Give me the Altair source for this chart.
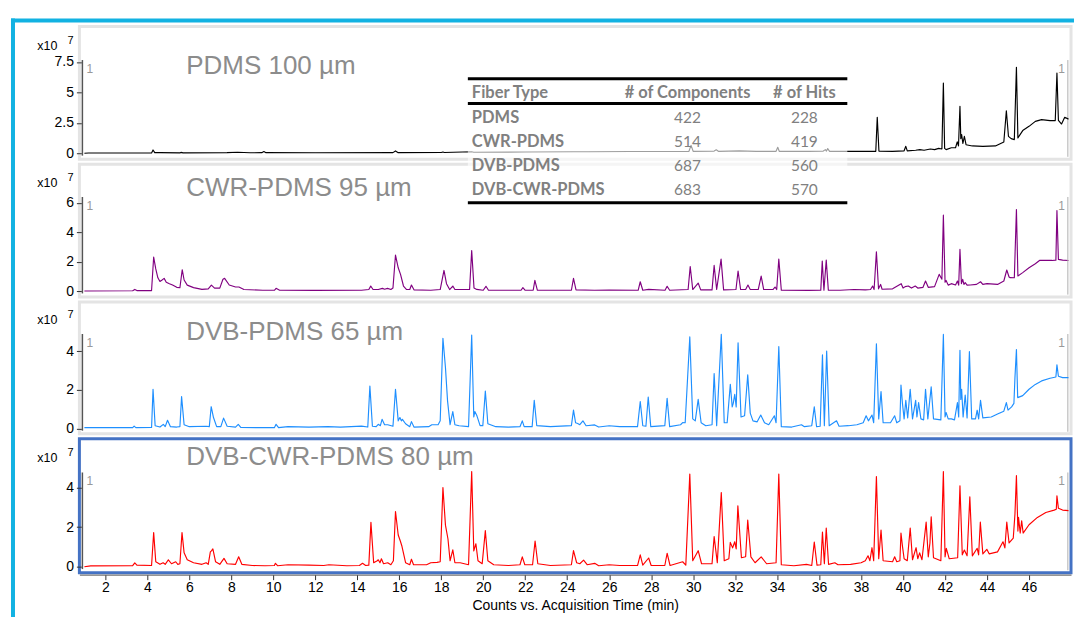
import altair as alt
import pandas as pd

# ---------------- data (intensities in x10^7 counts) ----------------
PANEL_TITLES = ["PDMS 100 µm", "CWR-PDMS 95 µm", "DVB-PDMS 65 µm", "DVB-CWR-PDMS 80 µm"]

PDMS_TRACE = [
    (1.0, 0.0), (1.2, 0.02), (4.2, 0.03), (4.27, 0.27), (4.35, 0.05), (4.6, 0.05), (5.55, 0.03),
    (5.6, 0.07), (5.7, 0.03), (7.8, 0.05), (8.3, 0.08), (8.9, 0.04), (9.45, 0.05), (9.55, 0.14),
    (9.65, 0.05), (12.0, 0.04), (15.7, 0.05), (15.82, 0.19), (15.95, 0.05), (18.0, 0.06),
    (18.08, 0.1), (18.15, 0.06), (19.45, 0.12), (19.55, 0.08), (22.0, 0.1), (24.3, 0.12),
    (25.0, 0.12), (27.0, 0.14), (29.8, 0.16), (29.9, 0.65), (30.0, 0.16), (31.0, 0.18),
    (31.1, 0.28), (31.2, 0.16), (32.2, 0.2), (33.0, 0.16), (33.95, 0.16), (34.03, 0.49),
    (34.1, 0.16), (35.5, 0.16), (36.2, 0.18), (36.3, 0.3), (36.35, 0.18), (36.41, 0.38),
    (36.5, 0.16), (37.5, 0.16), (38.7, 0.16), (38.77, 2.95), (38.85, 0.18), (39.5, 0.16),
    (40.05, 0.2), (40.13, 0.57), (40.2, 0.2), (40.6, 0.25), (40.8, 0.3), (41.0, 0.25),
    (41.3, 0.35), (41.5, 0.3), (41.7, 0.4), (41.85, 0.35), (41.92, 5.76), (41.98, 0.4),
    (42.05, 0.3), (42.3, 0.45), (42.5, 0.45), (42.58, 0.93), (42.64, 0.6), (42.71, 3.85),
    (42.75, 1.2), (42.79, 1.53), (42.85, 0.8), (42.92, 1.39), (43.0, 0.7), (43.3, 0.6),
    (43.8, 0.57), (44.4, 0.6), (44.8, 0.93), (44.92, 3.49), (45.02, 1.39), (45.15, 1.2),
    (45.3, 1.12), (45.4, 7.05), (45.47, 1.26), (45.7, 1.86), (46.0, 2.21), (46.3, 2.62),
    (46.6, 2.76), (47.0, 2.68), (47.25, 2.68), (47.33, 6.58), (47.4, 2.7), (47.55, 2.4),
    (47.7, 2.95), (47.88, 2.8),
]

CWR_PDMS_TRACE = [
    (1.0, 0.0), (3.3, 0.02), (3.4, 0.11), (3.5, 0.03), (4.2, 0.03), (4.3, 2.31), (4.4, 1.5),
    (4.5, 0.9), (4.6, 0.65), (4.7, 0.75), (4.8, 0.86), (4.9, 0.6), (5.05, 0.5), (5.2, 0.41),
    (5.4, 0.25), (5.55, 0.22), (5.66, 1.45), (5.75, 0.75), (5.9, 0.4), (6.2, 0.23), (6.6, 0.11),
    (6.9, 0.15), (7.05, 0.4), (7.2, 0.2), (7.45, 0.2), (7.6, 0.8), (7.68, 0.86), (7.9, 0.41),
    (8.2, 0.27), (8.36, 0.27), (8.6, 0.1), (9.5, 0.05), (10.05, 0.05), (10.13, 0.18),
    (10.3, 0.05), (12.0, 0.04), (14.2, 0.05), (14.55, 0.1), (14.64, 0.34), (14.75, 0.1),
    (15.0, 0.1), (15.2, 0.18), (15.3, 0.12), (15.44, 0.18), (15.6, 0.1), (15.7, 0.2),
    (15.82, 2.45), (15.95, 1.58), (16.06, 1.13), (16.2, 0.34), (16.35, 0.1), (16.5, 0.1),
    (16.58, 0.41), (16.7, 0.08), (17.5, 0.05), (17.95, 0.1), (18.13, 1.4), (18.25, 0.5),
    (18.4, 0.1), (18.55, 0.34), (18.65, 0.1), (19.35, 0.1), (19.45, 2.76), (19.56, 0.2),
    (19.69, 0.11), (20.0, 0.05), (20.13, 0.32), (20.25, 0.05), (21.8, 0.05), (21.89, 0.23),
    (22.0, 0.05), (22.38, 0.05), (22.46, 0.72), (22.58, 0.05), (24.2, 0.05), (24.3, 0.86),
    (24.42, 0.08), (25.3, 0.05), (26.0, 0.06), (27.38, 0.05), (27.48, 0.63), (27.6, 0.05),
    (27.88, 0.11), (28.66, 0.05), (28.76, 0.32), (28.88, 0.05), (29.76, 0.1), (29.86, 1.67),
    (29.98, 0.1), (30.24, 0.54), (30.36, 0.08), (30.9, 0.08), (31.0, 1.74), (31.12, 0.1),
    (31.33, 2.17), (31.45, 0.08), (32.04, 0.1), (32.14, 1.36), (32.26, 0.1), (32.5, 0.1),
    (32.61, 0.41), (32.72, 0.1), (33.1, 0.1), (33.24, 1.02), (33.36, 0.1), (33.8, 0.1),
    (33.9, 0.27), (33.98, 0.1), (34.08, 2.17), (34.2, 0.05), (35.5, 0.04), (36.08, 0.05),
    (36.15, 2.04), (36.23, 0.05), (36.34, 2.1), (36.44, 0.05), (37.0, 0.05), (37.66, 0.1),
    (38.2, 0.08), (38.45, 0.1), (38.55, 0.34), (38.62, 0.1), (38.73, 2.67), (38.83, 0.15),
    (38.93, 0.45), (39.0, 0.12), (39.5, 0.15), (39.91, 0.5), (40.0, 0.2), (40.1, 0.3),
    (40.25, 0.34), (40.4, 0.2), (40.58, 0.34), (40.7, 0.2), (40.95, 0.25), (41.07, 0.68),
    (41.2, 0.25), (41.5, 0.3), (41.72, 1.13), (41.85, 0.8), (41.92, 5.16), (42.0, 0.6),
    (42.05, 0.72), (42.15, 0.4), (42.3, 0.5), (42.5, 0.41), (42.59, 0.68), (42.65, 0.4),
    (42.71, 2.83), (42.78, 0.5), (42.84, 0.79), (42.9, 0.45), (42.96, 0.57), (43.05, 0.4),
    (43.2, 0.41), (43.5, 0.45), (43.69, 0.63), (43.8, 0.45), (44.0, 0.5), (44.5, 0.45),
    (44.8, 0.68), (44.94, 1.43), (45.05, 0.95), (45.1, 0.91), (45.3, 0.9), (45.4, 5.55),
    (45.47, 1.02), (45.7, 1.25), (46.0, 1.58), (46.3, 1.86), (46.5, 2.08), (46.8, 2.08),
    (47.1, 2.08), (47.28, 2.1), (47.33, 5.48), (47.4, 2.15), (47.6, 2.1), (47.88, 2.08),
]

DVB_PDMS_TRACE = [
    (1.0, 0.05), (3.3, 0.05), (3.37, 0.13), (3.45, 0.05), (4.2, 0.06), (4.27, 2.03), (4.37, 0.15),
    (4.6, 0.08), (4.76, 0.22), (4.85, 0.1), (4.96, 0.43), (5.1, 0.1), (5.4, 0.08), (5.55, 0.1),
    (5.63, 1.65), (5.75, 0.2), (6.0, 0.1), (6.8, 0.12), (6.95, 0.1), (7.04, 1.13), (7.15, 0.57),
    (7.3, 0.1), (7.5, 0.1), (7.63, 0.54), (7.8, 0.12), (8.2, 0.08), (8.33, 0.22), (8.45, 0.06),
    (9.5, 0.05), (10.05, 0.05), (10.13, 0.22), (10.25, 0.05), (10.7, 0.1), (11.7, 0.08),
    (12.6, 0.1), (13.2, 0.08), (14.2, 0.13), (14.5, 0.08), (14.6, 2.2), (14.72, 0.12),
    (14.9, 0.1), (15.0, 0.22), (15.1, 0.15), (15.18, 0.48), (15.3, 0.2), (15.45, 0.2),
    (15.7, 0.12), (15.82, 2.03), (15.95, 0.4), (16.03, 0.57), (16.1, 0.4), (16.15, 0.48),
    (16.3, 0.25), (16.5, 0.1), (16.58, 0.36), (16.7, 0.08), (17.4, 0.1), (17.55, 0.2),
    (17.85, 0.2), (17.95, 0.4), (18.08, 4.66), (18.2, 3.15), (18.3, 1.43), (18.42, 0.2),
    (18.55, 0.88), (18.65, 0.2), (18.85, 0.15), (19.3, 0.1), (19.45, 4.83), (19.55, 0.6),
    (19.6, 0.88), (19.7, 0.66), (19.85, 0.15), (19.98, 0.15), (20.1, 1.94), (20.22, 0.25),
    (20.6, 0.1), (21.2, 0.08), (21.75, 0.1), (21.86, 0.4), (21.95, 0.1), (22.33, 0.1),
    (22.43, 1.46), (22.55, 0.15), (23.2, 0.1), (24.2, 0.15), (24.3, 0.95), (24.4, 0.3),
    (24.5, 0.26), (24.6, 0.2), (24.75, 0.4), (24.9, 0.15), (25.31, 0.19), (25.5, 0.08),
    (26.0, 0.15), (26.5, 0.1), (27.35, 0.1), (27.48, 1.4), (27.6, 0.15), (27.75, 0.12),
    (27.86, 1.63), (27.98, 0.1), (28.65, 0.15), (28.76, 1.56), (28.88, 0.1), (29.4, 0.2),
    (29.5, 0.31), (29.62, 0.3), (29.84, 4.73), (29.98, 0.5), (30.1, 0.4), (30.24, 1.51),
    (30.38, 0.3), (30.6, 0.15), (30.9, 0.2), (31.0, 2.84), (31.12, 0.15), (31.34, 4.86),
    (31.48, 0.3), (31.62, 0.3), (31.77, 2.28), (31.86, 1.12), (31.91, 1.3), (31.98, 1.77),
    (32.05, 1.12), (32.14, 4.43), (32.28, 0.6), (32.45, 0.66), (32.6, 2.77), (32.72, 0.8),
    (32.85, 0.4), (33.05, 0.35), (33.22, 0.7), (33.4, 0.3), (33.6, 0.2), (33.87, 0.66),
    (33.95, 0.3), (34.08, 4.23), (34.2, 0.1), (34.7, 0.08), (35.16, 0.2), (35.3, 0.1),
    (35.65, 0.15), (35.77, 1.12), (35.88, 0.1), (36.05, 0.12), (36.16, 3.8), (36.25, 0.15),
    (36.36, 4.0), (36.48, 0.15), (36.83, 0.4), (36.95, 0.12), (37.4, 0.15), (37.8, 0.2),
    (38.1, 0.3), (38.24, 0.66), (38.35, 0.4), (38.52, 0.7), (38.6, 0.3), (38.73, 4.38),
    (38.84, 0.5), (38.95, 1.91), (39.05, 0.3), (39.4, 0.3), (39.6, 0.66), (39.7, 0.3),
    (39.85, 0.4), (39.9, 2.25), (39.97, 1.3), (40.05, 0.5), (40.13, 1.46), (40.22, 0.55),
    (40.34, 2.03), (40.45, 0.5), (40.6, 1.46), (40.66, 0.6), (40.74, 1.34), (40.85, 0.5),
    (40.98, 0.45), (41.07, 2.03), (41.18, 0.5), (41.34, 2.15), (41.45, 0.5), (41.8, 0.45),
    (41.92, 4.86), (42.0, 0.6), (42.05, 0.83), (42.15, 0.5), (42.3, 0.5), (42.45, 0.45),
    (42.59, 1.34), (42.65, 0.6), (42.71, 4.04), (42.75, 1.5), (42.79, 2.03), (42.86, 0.6),
    (42.96, 1.73), (43.05, 0.55), (43.16, 3.97), (43.27, 0.5), (43.45, 0.5), (43.53, 0.95),
    (43.6, 0.5), (43.69, 1.46), (43.8, 0.55), (44.2, 0.6), (44.5, 0.75), (44.8, 0.9),
    (44.92, 1.34), (45.0, 0.95), (45.17, 1.12), (45.28, 1.3), (45.33, 2.63), (45.4, 4.08),
    (45.46, 1.6), (45.7, 1.7), (46.0, 2.03), (46.3, 2.28), (46.6, 2.46), (47.0, 2.6),
    (47.28, 2.66), (47.33, 3.29), (47.4, 2.7), (47.6, 2.63), (47.88, 2.63),
]

DVB_CWR_PDMS_TRACE = [
    (1.0, 0.0), (1.3, 0.04), (3.3, 0.05), (3.4, 0.19), (3.5, 0.08), (4.2, 0.06), (4.3, 1.73),
    (4.4, 0.25), (4.6, 0.12), (4.75, 0.2), (4.85, 0.12), (5.0, 0.35), (5.15, 0.15), (5.35, 0.25),
    (5.45, 0.12), (5.55, 0.15), (5.65, 1.73), (5.75, 0.7), (5.9, 0.35), (6.2, 0.2), (6.6, 0.12),
    (6.8, 0.2), (6.9, 0.12), (7.0, 0.75), (7.05, 0.8), (7.12, 0.9), (7.25, 0.25), (7.45, 0.12),
    (7.65, 0.42), (7.8, 0.15), (8.2, 0.12), (8.35, 0.5), (8.5, 0.12), (9.0, 0.06), (9.6, 0.05),
    (10.05, 0.06), (10.1, 0.17), (10.2, 0.05), (10.7, 0.1), (11.7, 0.08), (12.4, 0.06),
    (12.65, 0.1), (13.5, 0.05), (14.1, 0.06), (14.25, 0.17), (14.4, 0.06), (14.55, 0.08),
    (14.65, 2.24), (14.78, 0.2), (14.95, 0.3), (15.0, 0.35), (15.08, 0.2), (15.15, 0.4),
    (15.25, 0.15), (15.45, 0.2), (15.6, 0.1), (15.72, 0.3), (15.82, 2.79), (15.95, 1.6),
    (16.05, 1.3), (16.12, 1.06), (16.3, 0.2), (16.5, 0.1), (16.58, 0.38), (16.68, 0.1),
    (17.3, 0.1), (17.5, 0.2), (17.8, 0.22), (17.95, 0.25), (18.08, 4.0), (18.2, 2.1),
    (18.32, 1.4), (18.42, 0.3), (18.55, 0.85), (18.65, 0.2), (18.9, 0.2), (19.3, 0.1),
    (19.45, 4.81), (19.55, 0.8), (19.65, 1.16), (19.75, 0.3), (19.95, 0.15), (20.1, 1.82),
    (20.22, 0.3), (20.5, 0.1), (21.2, 0.06), (21.75, 0.1), (21.86, 0.5), (21.98, 0.1),
    (22.35, 0.1), (22.47, 1.3), (22.6, 0.15), (23.2, 0.06), (24.2, 0.1), (24.3, 0.81),
    (24.45, 0.2), (24.6, 0.15), (24.78, 0.33), (24.95, 0.1), (25.31, 0.17), (25.5, 0.05),
    (26.0, 0.1), (26.5, 0.06), (27.35, 0.06), (27.48, 0.6), (27.6, 0.08), (27.88, 0.44),
    (28.0, 0.06), (28.65, 0.06), (28.76, 0.68), (28.9, 0.06), (29.5, 0.25), (29.65, 0.08),
    (29.84, 4.68), (29.98, 0.3), (30.24, 0.81), (30.4, 0.15), (30.9, 0.15), (31.0, 1.52),
    (31.15, 0.2), (31.34, 3.75), (31.48, 0.3), (31.7, 0.4), (31.77, 1.23), (31.88, 0.95),
    (31.98, 1.26), (32.05, 0.9), (32.13, 3.08), (32.3, 0.45), (32.5, 0.5), (32.6, 2.36),
    (32.75, 0.5), (32.95, 0.2), (33.24, 0.5), (33.5, 0.15), (33.95, 0.2), (34.08, 4.68),
    (34.2, 0.1), (34.8, 0.05), (35.4, 0.12), (35.65, 0.06), (35.77, 1.25), (35.9, 0.08),
    (36.08, 0.1), (36.16, 1.75), (36.25, 0.15), (36.34, 1.95), (36.45, 0.12), (36.75, 0.2),
    (36.9, 0.1), (37.5, 0.12), (38.0, 0.2), (38.2, 0.3), (38.33, 0.55), (38.42, 0.3),
    (38.52, 0.96), (38.6, 0.3), (38.73, 4.55), (38.84, 0.4), (38.95, 1.85), (39.05, 0.3),
    (39.5, 0.25), (39.6, 0.5), (39.7, 0.25), (39.85, 0.3), (39.9, 1.7), (39.97, 1.04),
    (40.05, 0.4), (40.2, 0.3), (40.34, 1.95), (40.45, 0.35), (40.62, 0.96), (40.7, 0.4),
    (40.79, 0.7), (40.9, 0.35), (41.1, 2.25), (41.2, 0.5), (41.28, 1.2), (41.34, 2.52),
    (41.45, 0.45), (41.8, 0.3), (41.92, 4.81), (42.0, 0.5), (42.06, 0.93), (42.2, 0.4),
    (42.6, 0.45), (42.71, 4.09), (42.82, 0.6), (42.92, 0.84), (43.05, 0.55), (43.18, 3.53),
    (43.3, 0.55), (43.53, 0.93), (43.6, 0.6), (43.68, 2.25), (43.8, 0.65), (43.99, 0.88),
    (44.1, 0.65), (44.5, 0.75), (44.76, 1.26), (44.85, 0.95), (44.94, 2.25), (45.05, 1.2),
    (45.25, 1.45), (45.33, 2.66), (45.4, 4.6), (45.47, 1.8), (45.5, 2.49), (45.58, 1.7),
    (45.65, 2.32), (45.72, 1.7), (46.0, 2.12), (46.4, 2.49), (46.8, 2.74), (47.2, 2.86),
    (47.3, 2.9), (47.33, 3.58), (47.4, 2.95), (47.6, 2.86), (47.88, 2.83),
]

TRACES = [PDMS_TRACE, CWR_PDMS_TRACE, DVB_PDMS_TRACE, DVB_CWR_PDMS_TRACE]

Y_TICKS = [[0, 2.5, 5, 7.5], [0, 2, 4, 6], [0, 2, 4], [0, 2, 4]]
Y_TOP = [7.65, 6.4, 4.88, 4.76]          # top of each trace's displayed range
X_TICKS = list(range(2, 48, 2))
X_END = 47.85

FIBER_TYPES = ["PDMS", "CWR-PDMS", "DVB-PDMS", "DVB-CWR-PDMS"]
N_COMPONENTS = [422, 514, 687, 683]
N_HITS = [228, 419, 560, 570]
TABLE_HEADER = ["Fiber Type", "# of Components", "# of Hits"]

# ---------------- layout / style ----------------
FONT = "Liberation Sans"
TABLE_FONT = "Lato"
COLORS = ["#000000", "#800080", "#1e8fff", "#ff0000"]
FRAME = ["#e4e4e4", "#e4e4e4", "#e4e4e4", "#4472c4"]
HEIGHTS = [133, 133, 132, 134]
Y_DOMAINS = [(-0.49, 10.41), (-0.41, 8.63), (-0.27, 6.53), (-0.30, 6.46)]
X_DOMAIN = [0.762, 48.0]
WIDTH = 993
TITLE_Y = [40, 24, 30.5, 18.5]
CYAN = "#12b2e2"
GREY_TEXT = "#8c8c8c"
TABLE_GREY = "#808080"

ONE = pd.DataFrame({"k": [0]})


def table_layers():
    x0, x1 = 389, 769
    col_x = [393, 609, 726]
    header_y = -71.5
    row_y = [-46.5, -22.3, 1.8, 25.5]
    layers = [
        alt.Chart(ONE).mark_rect(color="white", opacity=0.62).encode(
            x=alt.value(x0), x2=alt.value(x1), y=alt.value(-87), y2=alt.value(41)),
    ]
    for yy in (-85.7, -60.7, 38.7):
        layers.append(alt.Chart(ONE).mark_rule(color="black", strokeWidth=3).encode(
            x=alt.value(x0), x2=alt.value(x1), y=alt.value(yy)))
    aligns = ["left", "center", "center"]
    for j, h in enumerate(TABLE_HEADER):
        layers.append(alt.Chart(ONE).mark_text(
            text=h, align=aligns[j], baseline="middle", font=TABLE_FONT, fontSize=16.5,
            fontWeight="bold", color=TABLE_GREY).encode(x=alt.value(col_x[j]), y=alt.value(header_y)))
    for k in range(len(FIBER_TYPES)):
        cells = [FIBER_TYPES[k], str(N_COMPONENTS[k]), str(N_HITS[k])]
        for j, c in enumerate(cells):
            layers.append(alt.Chart(ONE).mark_text(
                text=c, align=aligns[j], baseline="middle", font=TABLE_FONT,
                fontSize=16.5 if j == 0 else 15.5,
                fontWeight="bold" if j == 0 else "normal", color=TABLE_GREY).encode(
                x=alt.value(col_x[j]), y=alt.value(row_y[k])))
    return layers


def cyan_frame_layers():
    left, right, top, bottom = -66.5, 1000, -6, 600
    rule = dict(color=CYAN, strokeWidth=4, strokeCap="square")
    return [
        alt.Chart(ONE).mark_rule(**rule).encode(x=alt.value(left), y=alt.value(top), y2=alt.value(bottom)),
        alt.Chart(ONE).mark_rule(**rule).encode(x=alt.value(left), x2=alt.value(right), y=alt.value(top)),
    ]


def panel(i):
    df = pd.DataFrame(TRACES[i], columns=["t", "v"])
    xs = alt.Scale(domain=X_DOMAIN, nice=False, zero=False)
    ys = alt.Scale(domain=list(Y_DOMAINS[i]), nice=False, zero=False)
    top = Y_TOP[i]
    if i == 3:
        xaxis = alt.Axis(values=X_TICKS, title="Counts vs. Acquisition Time (min)", grid=False,
                         offset=2, tickSize=5, labelPadding=1, titlePadding=4,
                         domainColor="#555555", tickColor="#333333", labelFontSize=14,
                         titleFontSize=14, titleFontWeight="normal", labelFont=FONT,
                         titleFont=FONT, labelColor="black", titleColor="black")
    else:
        xaxis = None
    yaxis = alt.Axis(values=Y_TICKS[i], format=".1~f", grid=False, domain=False, offset=-2,
                     tickSize=5, labelPadding=3, title=None, labelFontSize=14, labelFont=FONT,
                     labelColor="black", tickColor="#333333")

    layers = []
    if i == 0:
        layers += cyan_frame_layers()

    one = alt.Chart(ONE)
    ydat = lambda v: alt.YDatum(v, scale=ys, axis=None)
    xdat = lambda v: alt.XDatum(v, scale=xs, axis=None)
    layers += [
        one.mark_rule(color="#555555", strokeWidth=1.5).encode(
            x=alt.value(3), y=ydat(Y_DOMAINS[i][0] * 0.4), y2=alt.Y2Datum(top)),
        one.mark_rule(color="#b0b0b0", strokeWidth=1).encode(
            x=xdat(X_END), y=ydat(Y_DOMAINS[i][0] * 0.6), y2=alt.Y2Datum(top)),
        one.mark_text(text="1", align="left", baseline="middle", fontSize=12, font=FONT,
                      color="#999999", dy=9).encode(x=alt.value(7), y=ydat(top)),
        one.mark_text(text="1", align="right", baseline="middle", fontSize=12, font=FONT,
                      color="#999999", dy=9, dx=-3).encode(x=xdat(X_END), y=ydat(top)),
        one.mark_text(text="x10", align="right", baseline="middle", fontSize=12.5, font=FONT,
                      color="black", dy=-14).encode(x=alt.value(-22), y=ydat(top)),
        one.mark_text(text="7", align="left", baseline="middle", fontSize=11, font=FONT,
                      color="black", dy=-19.5).encode(x=alt.value(-12), y=ydat(top)),
        one.mark_text(text=PANEL_TITLES[i], align="left", baseline="middle", fontSize=26,
                      font=FONT, color=GREY_TEXT).encode(x=alt.value(107), y=alt.value(TITLE_Y[i])),
    ]
    if i == 1:
        layers += table_layers()

    line = alt.Chart(df).mark_line(color=COLORS[i], strokeWidth=1.15, strokeJoin="round").encode(
        x=alt.X("t:Q", scale=xs, axis=xaxis),
        y=alt.Y("v:Q", scale=ys, axis=yaxis),
    )
    if i == 1:
        layers = [line] + layers
    else:
        layers = layers + [line]
    return alt.layer(*layers).resolve_axis(x="independent", y="independent").properties(
        width=WIDTH, height=HEIGHTS[i],
        view=alt.ViewBackground(stroke=FRAME[i], strokeWidth=3),
    )


# svg kept to 1066 px wide so the page never overflows the window horizontally
chart = alt.vconcat(*[panel(i) for i in range(4)], spacing=5, bounds="flush").resolve_scale(
    x="independent", y="independent"
).properties(
    padding={"left": 0.5, "top": 7, "right": -9, "bottom": 0},
    background="white",
)

chart.save("out.html", embed_options={"renderer": "svg", "actions": False})
